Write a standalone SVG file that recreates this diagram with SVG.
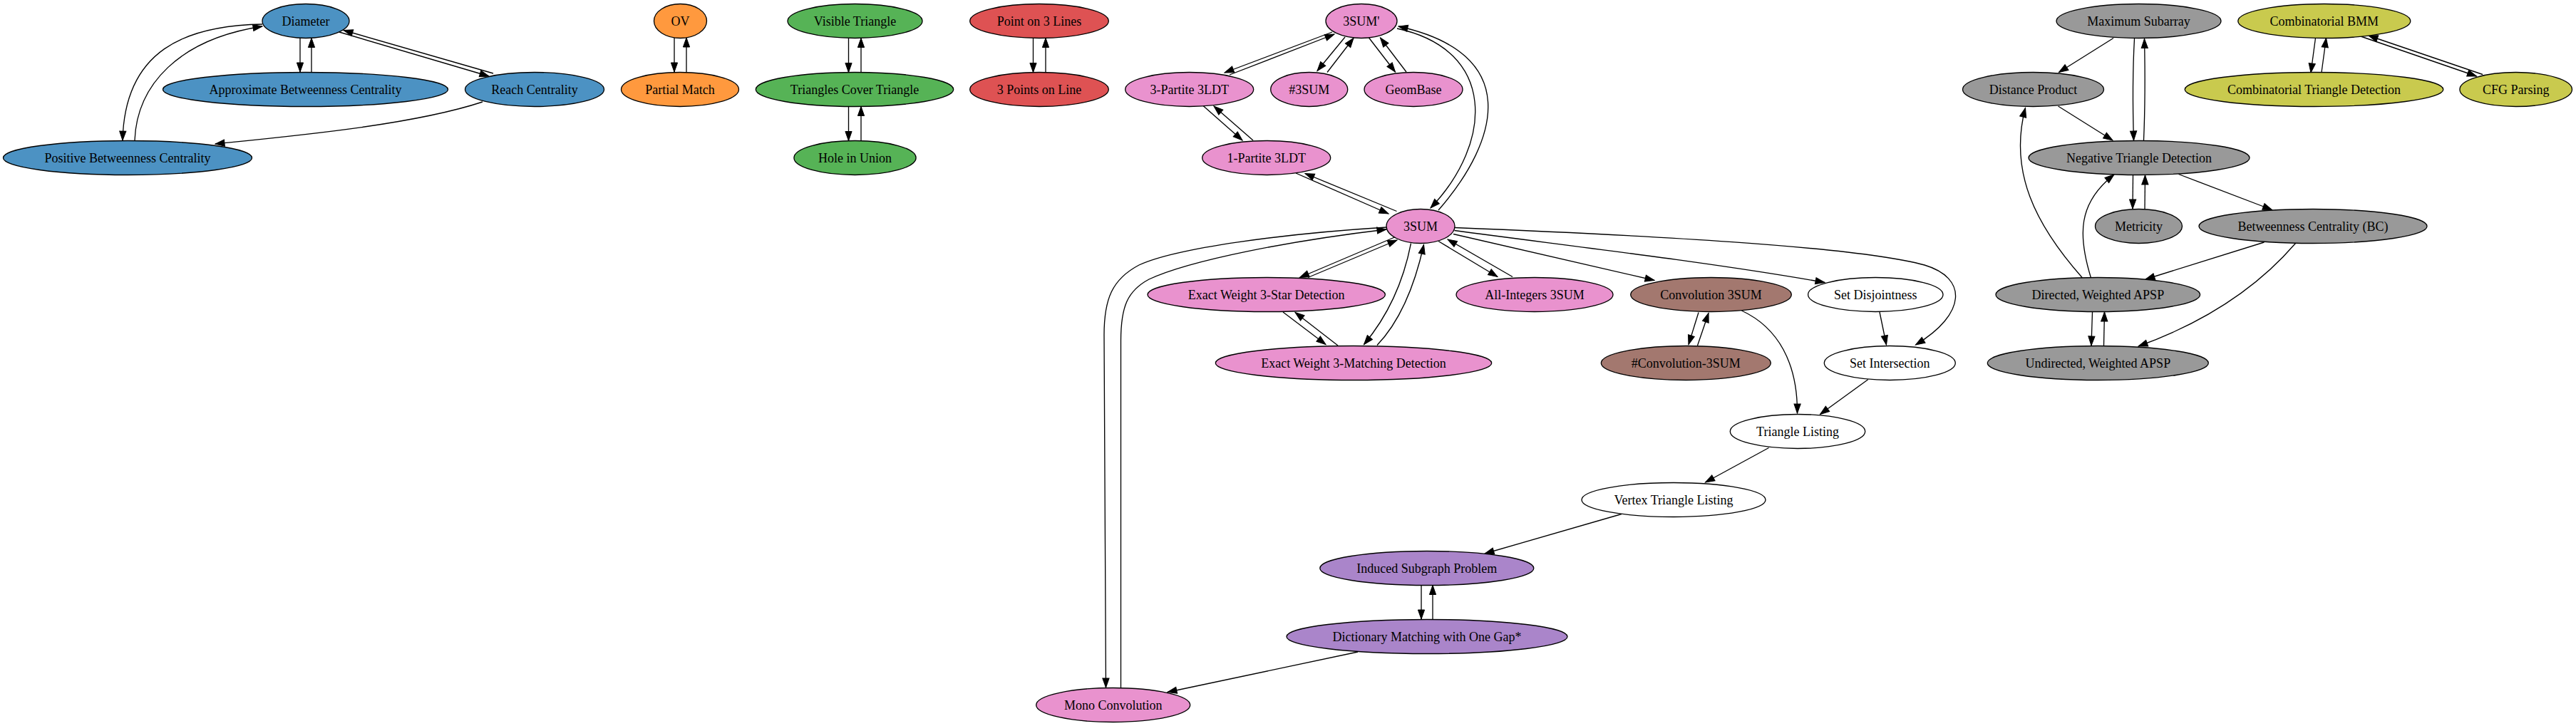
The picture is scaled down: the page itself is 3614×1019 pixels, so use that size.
<svg xmlns="http://www.w3.org/2000/svg" width="3614" height="1019" viewBox="0 0 3614 1019">
<style>
.bg{fill:#ffffff}
ellipse{stroke:#000;stroke-width:1.33}
text{font-family:"Liberation Serif","Times New Roman",serif;font-size:18px;text-anchor:middle;fill:#000}
.e path{fill:none;stroke:#000;stroke-width:1.33;marker-end:url(#ah)}
.blue{fill:#4c92c3}.orange{fill:#ff993e}.green{fill:#56b356}.red{fill:#de5253}.pink{fill:#e992ce}.brown{fill:#a3786f}.purple{fill:#aa85ca}.grey{fill:#999999}.olive{fill:#c9ca4e}.white{fill:#ffffff}
</style>
<defs>
<marker id="ah" viewBox="0 0 14 10" refX="13.5" refY="5" markerWidth="14" markerHeight="10" markerUnits="userSpaceOnUse" orient="auto" overflow="visible">
<path d="M0.5,0.4 L13.5,5 L0.5,9.6 z" fill="#000" stroke="#000" stroke-width="1"/>
</marker>
</defs>
<rect class="bg" x="0" y="0" width="3614" height="1019"/>
<g id="edges" class="e">
<path d="M421,53 L421,101"/>
<path d="M437,101.5 L437,53.5"/>
<path d="M476,45 L686,107"/>
<path d="M692,103 L482,42.5"/>
<path d="M368,34 C260,36 175,70 172,197"/>
<path d="M189,197 C192,120 250,55 368,37"/>
<path d="M677,143 C580,175 420,190 302,202"/>
<path d="M946,53 L946,101"/>
<path d="M963,101 L963,53"/>
<path d="M1190.5,53.5 L1190.5,101.5"/>
<path d="M1208,101.5 L1208,53.5"/>
<path d="M1190.5,149.5 L1190.5,197.5"/>
<path d="M1208,197.5 L1208,149.5"/>
<path d="M1449.5,53.5 L1449.5,101.5"/>
<path d="M1467,101.5 L1467,53.5"/>
<path d="M1869,45 L1718,102"/>
<path d="M1725,105 L1872,48"/>
<path d="M1887,52 L1848,99.5"/>
<path d="M1862,101.5 L1899,53.5"/>
<path d="M1920.5,53 L1957.5,101"/>
<path d="M1973,101 L1936.5,53"/>
<path d="M1688,148.5 L1743,197"/>
<path d="M1758,197 L1703,149"/>
<path d="M1818,243 L1948,300"/>
<path d="M1959.5,296.5 L1831,243.5"/>
<path d="M2018,295 C2105,195 2135,75 1962,37"/>
<path d="M1960,40 C2100,70 2095,200 2007,292"/>
<path d="M1945,319 C1800,328 1650,348 1598,372 C1560,392 1549,420 1549,470 L1551.5,965"/>
<path d="M1572.5,965 L1572.5,478 C1572.5,430 1582,408 1612,392 C1670,365 1810,338 1945,322"/>
<path d="M1956.5,333 L1823.5,389.5"/>
<path d="M1835,389.5 L1960,337"/>
<path d="M1800,438 L1860,483.5"/>
<path d="M1877,485 L1817,438.5"/>
<path d="M1979.5,341.5 C1970,390 1950,440 1913.5,483.5"/>
<path d="M1932,484.5 C1965,450 1985,400 1997.5,343.5"/>
<path d="M2018,338.5 L2101,388.5"/>
<path d="M2122,388.5 L2031,336"/>
<path d="M2039,328.5 L2321,393.5"/>
<path d="M2040.5,323.5 C2200,345 2400,368 2560,396.5"/>
<path d="M2041,319.5 C2300,330 2600,345 2700,372 C2760,390 2760,440 2687.5,484"/>
<path d="M2383,438.5 L2369,483.5"/>
<path d="M2381.5,485 L2397,439.5"/>
<path d="M2443.5,436 C2495,460 2522,510 2521.5,580"/>
<path d="M2637,438 L2646.5,484"/>
<path d="M2621,532.5 L2553.5,581.5"/>
<path d="M2481.5,628.5 L2392.5,677"/>
<path d="M2275,721.5 L2083,777"/>
<path d="M1994,821.5 L1994,869"/>
<path d="M2010,869 L2010,821.5"/>
<path d="M1905,915 L1638,971.5"/>
<path d="M2965,53.5 L2888.5,101.5"/>
<path d="M2994.5,54 C2992,100 2992,150 2993.5,197"/>
<path d="M3007.5,197 C3009.5,150 3009.5,100 3008.5,54.5"/>
<path d="M2887.5,149 L2964,197"/>
<path d="M2992.5,246 L2992,293"/>
<path d="M3009,293.5 L3009.5,246"/>
<path d="M3056.5,244.5 L3187.5,294.5"/>
<path d="M3176.5,340 L3010,392"/>
<path d="M3220.5,341.5 C3170,400 3100,450 3000,486"/>
<path d="M2921.5,390 C2855,315 2818,240 2841.5,151.5"/>
<path d="M2933.5,390 C2915,330 2915,285 2966,245"/>
<path d="M2935.5,438 L2934,485"/>
<path d="M2951.5,485 L2952.5,438"/>
<path d="M3248.5,53.5 L3242,102"/>
<path d="M3257,101.5 L3263.5,53.5"/>
<path d="M3312,51 L3474.5,107"/>
<path d="M3483,104.5 L3323,50"/>
</g>
<g id="nodes">
<g id="n-diameter"><ellipse class="blue" cx="429" cy="29.5" rx="61" ry="24"/><text x="429" y="35.5">Diameter</text></g>
<g id="n-abc"><ellipse class="blue" cx="428.5" cy="125.5" rx="200" ry="24"/><text x="428.5" y="131.5">Approximate Betweenness Centrality</text></g>
<g id="n-reach"><ellipse class="blue" cx="750" cy="125.5" rx="97.5" ry="24"/><text x="750" y="131.5">Reach Centrality</text></g>
<g id="n-pbc"><ellipse class="blue" cx="179" cy="221.5" rx="174.5" ry="24"/><text x="179" y="227.5">Positive Betweenness Centrality</text></g>
<g id="n-ov"><ellipse class="orange" cx="954.5" cy="29.5" rx="37" ry="24"/><text x="954.5" y="35.5">OV</text></g>
<g id="n-pm"><ellipse class="orange" cx="954" cy="125.5" rx="82.5" ry="24"/><text x="954" y="131.5">Partial Match</text></g>
<g id="n-vt"><ellipse class="green" cx="1199.5" cy="29.5" rx="94.5" ry="24"/><text x="1199.5" y="35.5">Visible Triangle</text></g>
<g id="n-tct"><ellipse class="green" cx="1199" cy="125.5" rx="138.7" ry="24"/><text x="1199" y="131.5">Triangles Cover Triangle</text></g>
<g id="n-hu"><ellipse class="green" cx="1199.5" cy="221.5" rx="85.6" ry="24"/><text x="1199.5" y="227.5">Hole in Union</text></g>
<g id="n-p3l"><ellipse class="red" cx="1458" cy="29.5" rx="97.3" ry="24"/><text x="1458" y="35.5">Point on 3 Lines</text></g>
<g id="n-3pl"><ellipse class="red" cx="1458" cy="125.5" rx="97.3" ry="24"/><text x="1458" y="131.5">3 Points on Line</text></g>
<g id="n-3sumprime"><ellipse class="pink" cx="1910" cy="29.5" rx="50" ry="24"/><text x="1910" y="35.5">3SUM'</text></g>
<g id="n-3p3ldt"><ellipse class="pink" cx="1668.7" cy="125.5" rx="90" ry="24"/><text x="1668.7" y="131.5">3-Partite 3LDT</text></g>
<g id="n-sharp3sum"><ellipse class="pink" cx="1836.7" cy="125.5" rx="54" ry="24"/><text x="1836.7" y="131.5">#3SUM</text></g>
<g id="n-geombase"><ellipse class="pink" cx="1983" cy="125.5" rx="69" ry="24"/><text x="1983" y="131.5">GeomBase</text></g>
<g id="n-1p3ldt"><ellipse class="pink" cx="1776.7" cy="221.5" rx="90" ry="24"/><text x="1776.7" y="227.5">1-Partite 3LDT</text></g>
<g id="n-3sum"><ellipse class="pink" cx="1993" cy="317.5" rx="48" ry="24"/><text x="1993" y="323.5">3SUM</text></g>
<g id="n-ew3star"><ellipse class="pink" cx="1776.7" cy="413.5" rx="166.7" ry="24"/><text x="1776.7" y="419.5">Exact Weight 3-Star Detection</text></g>
<g id="n-allint"><ellipse class="pink" cx="2153" cy="413.5" rx="110" ry="24"/><text x="2153" y="419.5">All-Integers 3SUM</text></g>
<g id="n-conv3sum"><ellipse class="brown" cx="2400.5" cy="413.5" rx="112.8" ry="24"/><text x="2400.5" y="419.5">Convolution 3SUM</text></g>
<g id="n-setdisj"><ellipse class="white" cx="2631.3" cy="413.5" rx="94.7" ry="24"/><text x="2631.3" y="419.5">Set Disjointness</text></g>
<g id="n-ew3match"><ellipse class="pink" cx="1899" cy="509.5" rx="193.7" ry="24"/><text x="1899" y="515.5">Exact Weight 3-Matching Detection</text></g>
<g id="n-sharpconv"><ellipse class="brown" cx="2365.3" cy="509.5" rx="119" ry="24"/><text x="2365.3" y="515.5">#Convolution-3SUM</text></g>
<g id="n-setint"><ellipse class="white" cx="2651.3" cy="509.5" rx="92" ry="24"/><text x="2651.3" y="515.5">Set Intersection</text></g>
<g id="n-tl"><ellipse class="white" cx="2522" cy="605.5" rx="94.7" ry="24"/><text x="2522" y="611.5">Triangle Listing</text></g>
<g id="n-vtl"><ellipse class="white" cx="2348" cy="701.5" rx="129" ry="24"/><text x="2348" y="707.5">Vertex Triangle Listing</text></g>
<g id="n-isp"><ellipse class="purple" cx="2001.8" cy="797.5" rx="150" ry="24"/><text x="2001.8" y="803.5">Induced Subgraph Problem</text></g>
<g id="n-dmog"><ellipse class="purple" cx="2002" cy="893.5" rx="197" ry="24"/><text x="2002" y="899.5">Dictionary Matching with One Gap*</text></g>
<g id="n-mono"><ellipse class="pink" cx="1561.7" cy="989.5" rx="108" ry="24"/><text x="1561.7" y="995.5">Mono Convolution</text></g>
<g id="n-ms"><ellipse class="grey" cx="3000.5" cy="29.5" rx="115.5" ry="24"/><text x="3000.5" y="35.5">Maximum Subarray</text></g>
<g id="n-dp"><ellipse class="grey" cx="2852.5" cy="125.5" rx="99" ry="24"/><text x="2852.5" y="131.5">Distance Product</text></g>
<g id="n-ntd"><ellipse class="grey" cx="3001" cy="221.5" rx="155" ry="24"/><text x="3001" y="227.5">Negative Triangle Detection</text></g>
<g id="n-met"><ellipse class="grey" cx="3000.5" cy="317.5" rx="61" ry="24"/><text x="3000.5" y="323.5">Metricity</text></g>
<g id="n-bc"><ellipse class="grey" cx="3245" cy="317.5" rx="160" ry="24"/><text x="3245" y="323.5">Betweenness Centrality (BC)</text></g>
<g id="n-dwapsp"><ellipse class="grey" cx="2943.3" cy="413.5" rx="143.3" ry="24"/><text x="2943.3" y="419.5">Directed, Weighted APSP</text></g>
<g id="n-uwapsp"><ellipse class="grey" cx="2943.3" cy="509.5" rx="155" ry="24"/><text x="2943.3" y="515.5">Undirected, Weighted APSP</text></g>
<g id="n-cbmm"><ellipse class="olive" cx="3260.8" cy="29.5" rx="121" ry="24"/><text x="3260.8" y="35.5">Combinatorial BMM</text></g>
<g id="n-ctd"><ellipse class="olive" cx="3246.5" cy="125.5" rx="181.3" ry="24"/><text x="3246.5" y="131.5">Combinatorial Triangle Detection</text></g>
<g id="n-cfg"><ellipse class="olive" cx="3529.7" cy="125.5" rx="78.8" ry="24"/><text x="3529.7" y="131.5">CFG Parsing</text></g>
</g>
</svg>
